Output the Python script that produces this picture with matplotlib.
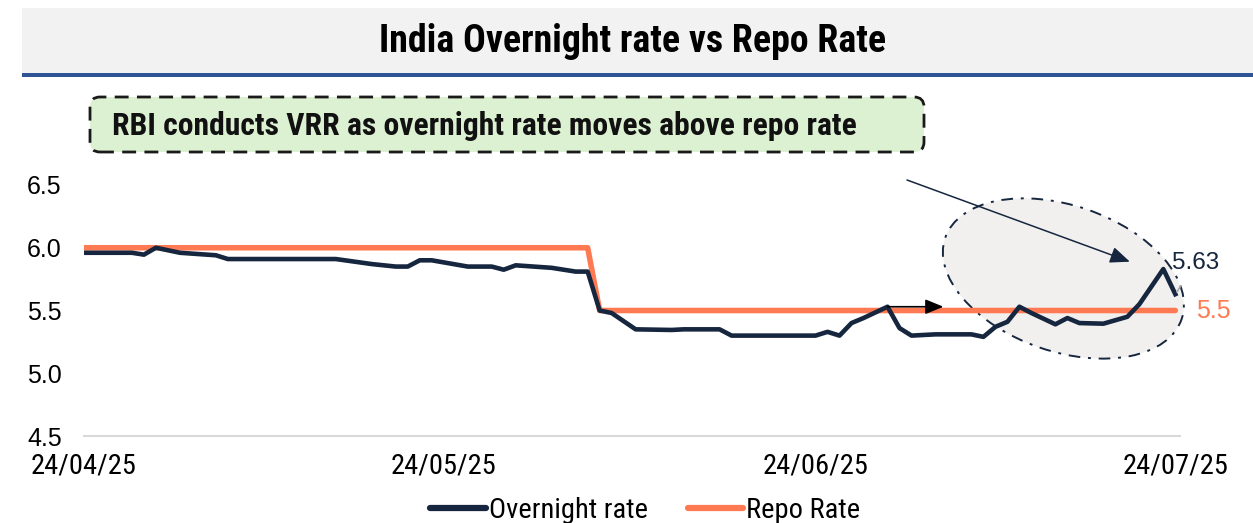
import matplotlib
matplotlib.use("Agg")
import matplotlib.pyplot as plt
import matplotlib.dates as mdates
import matplotlib.transforms as mtransforms
from matplotlib.patches import Ellipse, FancyBboxPatch, Rectangle
import pandas as pd

# overnight call rate (%)
on_dates = ["2025-04-24", "2025-04-28", "2025-04-29", "2025-04-30", "2025-05-02",
            "2025-05-05", "2025-05-06", "2025-05-15", "2025-05-18", "2025-05-20",
            "2025-05-21", "2025-05-22", "2025-05-23", "2025-05-26", "2025-05-28",
            "2025-05-29", "2025-05-30", "2025-06-02", "2025-06-04", "2025-06-05",
            "2025-06-06", "2025-06-07", "2025-06-09", "2025-06-12", "2025-06-13",
            "2025-06-16", "2025-06-17", "2025-06-24", "2025-06-25", "2025-06-26",
            "2025-06-27", "2025-06-28", "2025-06-30", "2025-07-01", "2025-07-02",
            "2025-07-04", "2025-07-07", "2025-07-08", "2025-07-09", "2025-07-10",
            "2025-07-11", "2025-07-12", "2025-07-14", "2025-07-15", "2025-07-16",
            "2025-07-18", "2025-07-20", "2025-07-21", "2025-07-23", "2025-07-24"]
on_rate = [5.96, 5.96, 5.945, 6.00, 5.96,
           5.94, 5.91, 5.91, 5.87, 5.85,
           5.85, 5.90, 5.90, 5.85, 5.85,
           5.825, 5.86, 5.84, 5.81, 5.81,
           5.50, 5.48, 5.35, 5.345, 5.35,
           5.35, 5.30, 5.30, 5.33, 5.30,
           5.40, 5.44, 5.53, 5.36, 5.30,
           5.31, 5.31, 5.29, 5.37, 5.41,
           5.53, 5.48, 5.39, 5.44, 5.40,
           5.395, 5.45, 5.55, 5.83, 5.63]

# policy repo rate (%)
repo_dates = ["2025-04-24", "2025-06-05", "2025-06-06", "2025-07-24"]
repo_rate = [6.00, 6.00, 5.50, 5.50]

tick_dates = ["2025-04-24", "2025-05-24", "2025-06-24", "2025-07-24"]

navy = "#16263F"
coral = "#FF7A52"
narrow = ["Roboto Condensed", "Archivo Narrow", "PT Sans Narrow", "DejaVu Sans"]
plain = ["Liberation Sans", "DejaVu Sans"]

on_x = pd.to_datetime(on_dates)
repo_x = pd.to_datetime(repo_dates)
ticks = pd.to_datetime(tick_dates)

fig = plt.figure(figsize=(12.53, 5.23), dpi=100)
ax = fig.add_axes([0.067, 0.1663, 0.875, 0.48])

# header band
fig.patches.append(Rectangle((22 / 1253, 1 - 73 / 523), 1, 65 / 523, transform=fig.transFigure,
                             facecolor="#F2F2F2", edgecolor="none", zorder=0))
fig.patches.append(Rectangle((22 / 1253, 1 - 77 / 523), 1, 4 / 523, transform=fig.transFigure,
                             facecolor="#2F5597", edgecolor="none", zorder=1))
fig.text(0.505, 1 - 42 / 523, "India Overnight rate vs Repo Rate", ha="center", va="center",
         fontsize=27.3, fontweight="bold", family=narrow, color="black")

# callout box
box = FancyBboxPatch((90, 523 - 152), 834, 55, boxstyle="round,pad=0,rounding_size=10",
                     transform=mtransforms.IdentityTransform(), facecolor="#DCF0D2",
                     edgecolor="#1A1A1A", linestyle=(0, (5, 3)), linewidth=2, zorder=2)
fig.patches.append(box)
fig.text(112 / 1253, 1 - 126 / 523, "RBI conducts VRR as overnight rate moves above repo rate",
         ha="left", va="center", fontsize=22.8, fontweight="bold", family=narrow, color="#111111")

ax.plot(on_x, on_rate, color=navy, lw=3.3, solid_joinstyle="round", zorder=4, label="Overnight rate")
ax.plot(repo_x, repo_rate, color=coral, lw=4, solid_capstyle="round", zorder=3, label="Repo Rate")

ax.set_ylim(4.5, 6.5)
ax.set_yticks([4.5, 5.0, 5.5, 6.0, 6.5])
ax.set_yticklabels(["4.5", "5.0", "5.5", "6.0", "6.5"], fontsize=18, family=plain)
ax.set_xlim(on_x[0], on_x[-1] + pd.Timedelta(hours=10))
ax.set_xticks(ticks)
ax.xaxis.set_major_formatter(mdates.DateFormatter("%d/%m/%y"))
for lab in ax.get_xticklabels():
    lab.set_fontsize(20.5)
    lab.set_family(narrow)
ax.tick_params(axis="both", length=0)
ax.tick_params(axis="y", pad=16)
ax.tick_params(axis="x", pad=12)
for s in ["top", "right", "left"]:
    ax.spines[s].set_visible(False)
ax.spines["bottom"].set_color("#D9D9D9")
ax.spines["bottom"].set_linewidth(1.5)

# shaded ellipse around the latest spike
fig.canvas.draw()
cx, cy = ax.transData.transform((mdates.date2num(pd.Timestamp("2025-07-14 16:00")), 5.755))
ell = Ellipse((cx, cy), 250, 146, angle=-19, transform=mtransforms.IdentityTransform(),
              facecolor="#F1F0EE", edgecolor=navy, linestyle=(0, (6, 4, 1.5, 4)), linewidth=1.4,
              zorder=1, clip_on=False)
ax.add_artist(ell)

# pointer from the callout
ax.annotate("", xy=(pd.Timestamp("2025-07-20 05:00"), 5.889), xytext=(907 / 1253, 1 - 180 / 523),
            textcoords="figure fraction",
            arrowprops=dict(arrowstyle="-|>,head_length=1.2,head_width=0.5", color=navy, lw=1.1,
                            shrinkA=0, shrinkB=0), zorder=6)

# arrow along the repo line
ax.annotate("", xy=(pd.Timestamp("2025-07-04 16:00"), 5.53), xytext=(pd.Timestamp("2025-06-30"), 5.53),
            arrowprops=dict(arrowstyle="-|>,head_length=1.1,head_width=0.45", color="black", lw=1.2,
                            shrinkA=0, shrinkB=0), zorder=6)

# end labels
ax.annotate(f"{on_rate[-1]:.2f}", xy=(on_x[-1], on_rate[-1]), xytext=(1196 / 1253, 1 - 263 / 523),
            textcoords="figure fraction", ha="center", va="center", fontsize=17.5,
            family=plain, color=navy,
            arrowprops=dict(arrowstyle="-", color="#A6A6A6", lw=1.2, shrinkA=8, shrinkB=2), zorder=6)
ax.text(repo_x[-1] + pd.Timedelta(days=1.7), repo_rate[-1], f"{repo_rate[-1]:g}", ha="left", va="center",
        fontsize=18, family=plain, color=coral, zorder=6)

leg = fig.legend(loc="center", bbox_to_anchor=(0.515, 1 - 510 / 523), ncol=2, frameon=False,
                 prop={"family": narrow, "size": 20.5}, handlelength=1.95, handletextpad=0.1,
                 columnspacing=1.4)
for line in leg.get_lines():
    line.set_linewidth(4.5)
    line.set_solid_capstyle("round")

fig.savefig("out.png", dpi=100)
